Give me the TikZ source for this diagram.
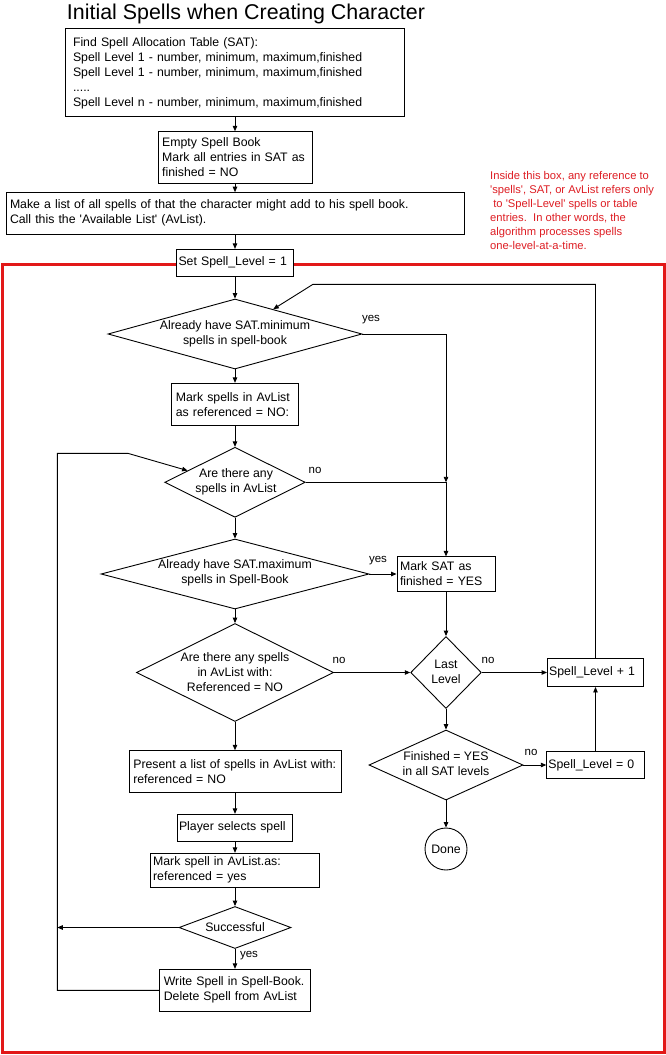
\documentclass[tikz,border=0pt]{standalone}
\usepackage{fontspec}
\setmainfont{Liberation Sans}
\usetikzlibrary{shapes.geometric,arrows.meta,calc}
\definecolor{boxred}{RGB}{226,24,24}
\definecolor{txtred}{RGB}{222,30,36}
\begin{document}
\begin{tikzpicture}[x=1pt,y=-1pt,
  every node/.style={font=\fontsize{12.3}{15}\selectfont},
  box/.style={draw, fill=white, align=left, inner ysep=0pt, line width=0.9pt},
  dia/.style={draw, fill=white, diamond, inner sep=0pt, line width=0.9pt},
  dtext/.style={align=center, inner sep=0pt},
  lbl/.style={font=\fontsize{11.5}{13}\selectfont, inner sep=0pt},
  redtext/.style={font=\fontsize{11.2}{14}\selectfont, text=txtred, align=left, inner sep=0pt},
  arr/.style={-{Triangle[length=5.5pt,width=4.5pt]}, line width=0.9pt},
  ln/.style={line width=0.9pt}]
\useasboundingbox (0,0) rectangle (666,1055);
\fill[white] (0,0) rectangle (666,1055);

% red frame
\draw[boxred, line width=3pt] (2,264.3) rectangle (664.5,1052.5);

% title
\node (title) at (246,13.5) {\fontsize{21.4}{25}\selectfont Initial Spells when Creating Character};

% note
\node[redtext, anchor=north west] (note) at (490,171) {Inside this box, any reference to\\\textquotesingle spells\textquotesingle, SAT, or AvList refers only\\\ to \textquotesingle Spell-Level\textquotesingle\ spells or table\\entries.\ \ In other words, the\\algorithm processes spells\\one-level-at-a-time.};

% boxes
\node[box, minimum width=339, text width=324, inner xsep=7.5, minimum height=88] (sat) at (235,72) {\rule{0pt}{11pt}Find Spell Allocation Table (SAT):\\Spell Level 1 - number, minimum, maximum,finished\\Spell Level 1 - number, minimum, maximum,finished\\.....\\Spell Level n - number, minimum, maximum,finished};
\node[box, minimum width=154, text width=145.6, inner xsep=4.2, minimum height=51.6] (empty) at (235,157.5) {Empty Spell Book\\Mark all entries in SAT as\\finished = NO};
\node[box, minimum width=458, text width=450, inner xsep=4, minimum height=41.3] (avail) at (235,213.3) {Make a list of all spells of that the character might add to his spell book.\\Call this the \textquotesingle Available List\textquotesingle\ (AvList).};
\node[box, minimum width=117, text width=113, inner xsep=2, minimum height=26.7] (setlvl) at (235,262.7) {Set Spell\_Level = 1};
\node[box, minimum width=126.6, text width=118.2, inner xsep=4.2, minimum height=42] (mark1) at (235,404.3) {Mark spells in AvList\\as referenced = NO:};
\node[box, minimum width=98, text width=92, inner xsep=3, minimum height=34.3] (marksat) at (446,574) {Mark SAT as\\finished = YES};
\node[box, minimum width=96, text width=92.6, inner xsep=1.7, minimum height=28] (lvlp1) at (595.5,672.5) {Spell\_Level + 1};
\node[box, minimum width=97.5, text width=94.1, inner xsep=1.7, minimum height=27.6] (lvl0) at (595.5,765) {Spell\_Level = 0};
\node[box, minimum width=212, text width=203.4, inner xsep=4.3, minimum height=41.6] (present) at (235,771.5) {Present a list of spells in AvList with:\\referenced = NO};
\node[box, minimum width=115.5, text width=112, inner xsep=1.7, minimum height=27] (player) at (235,827.8) {Player selects spell};
\node[box, minimum width=168.7, text width=163.7, inner xsep=2.5, minimum height=34] (markspell) at (235,870.3) {Mark spell in AvList.as:\\referenced = yes};
\node[box, minimum width=150.8, text width=142.4, inner xsep=4.2, minimum height=42] (write) at (235,990.3) {Write Spell in Spell-Book.\\Delete Spell from AvList};

% decisions
\node[dia, minimum width=254, minimum height=70] (d1) at (235,334) {};
\node[dtext] (d1t) at (235,333.5) {Already have SAT.minimum\\spells in spell-book};
\node[dia, minimum width=140.6, minimum height=70] (d2) at (235,482.3) {};
\node[dtext] (d2t) at (236,482) {Are there any\\spells in AvList};
\node[dia, minimum width=268, minimum height=70] (d3) at (235,574) {};
\node[dtext] (d3t) at (235,573) {Already have SAT.maximum\\spells in Spell-Book};
\node[dia, minimum width=197, minimum height=98] (d4) at (235,672.5) {};
\node[dtext] (d4t) at (235,672.5) {Are there any spells\\in AvList with:\\Referenced = NO};
\node[dia, minimum width=70.6, minimum height=72] (dlast) at (446,672.5) {};
\node[dtext] (dlastt) at (446,672) {Last\\Level};
\node[dia, minimum width=154, minimum height=70] (d5) at (446,765) {};
\node[dtext] (d5t) at (446,764) {Finished = YES\\in all SAT levels};
\node[dia, minimum width=112, minimum height=42] (dsucc) at (235,927.5) {};
\node[dtext] (dsucct) at (235,927) {Successful};
\node[draw, circle, fill=white, minimum size=42, inner sep=0pt, line width=0.9pt] (done) at (446,849) {Done};

% labels
\node[lbl] (y1) at (371,320) {yes};
\node[lbl] (n1) at (315,470) {no};
\node[lbl] (y2) at (378,561) {yes};
\node[lbl] (n2) at (339,660) {no};
\node[lbl] (n3) at (488,660) {no};
\node[lbl] (n4) at (531,752) {no};
\node[lbl] (y3) at (249,956) {yes};

% connectors
\draw[arr] (sat) -- (empty);
\draw[arr] (empty) -- (avail);
\draw[arr] (avail) -- (setlvl);
\draw[arr] (setlvl) -- (d1);
\coordinate (j1) at (marksat.north |- d2.east);
\draw[arr] (d1.east) -| (j1);
\draw[ln] (d2.east) -- (j1);
\draw[arr] (j1) -- (marksat.north);
\draw[arr] (d1) -- (mark1);
\draw[arr] (mark1) -- (d2);
\draw[arr] (d2) -- (d3);
\draw[arr] (d3.east) -- (marksat.west);
\draw[arr] (d3) -- (d4);
\draw[arr] (d4.east) -- (dlast.west);
\draw[arr] (marksat) -- (dlast);
\draw[arr] (dlast.east) -- (lvlp1.west);
\draw[arr] (dlast) -- (d5);
\draw[arr] (d5.east) -- (lvl0.west);
\draw[arr] (lvl0) -- (lvlp1);
\coordinate (tr) at (595.5,284.3);
\coordinate (tl) at (313,284.3);
\coordinate (d1in) at ($(d1.north)!0.3!(d1.east)$);
\draw[arr] (lvlp1.north) -- (tr) -- (tl) -- (d1in);
\draw[arr] (d5) -- (done);
\draw[arr] (d4) -- (present);
\draw[arr] (present) -- (player);
\draw[arr] (player) -- (markspell);
\draw[arr] (markspell) -- (dsucc);
\draw[arr] (dsucc) -- (write);
\coordinate (lb) at (57.3,990.3);
\coordinate (lt) at (57.3,453.3);
\coordinate (lt2) at (127.8,453.3);
\coordinate (d2in) at ($(d2.west)!0.33!(d2.north)$);
\draw[arr] (write.west) -- (lb) -- (lt) -- (lt2) -- (d2in);
\draw[arr] (dsucc.west) -- (dsucc.west -| lb);
\end{tikzpicture}
\end{document}
